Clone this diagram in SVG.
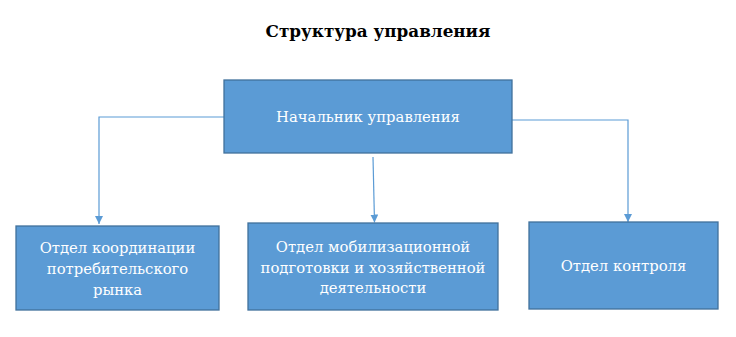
<svg xmlns="http://www.w3.org/2000/svg" width="736" height="337" viewBox="0 0 736 337">
<defs>
<style>
.box{fill:#5B9BD5;stroke:#41719C;stroke-width:1.3}
.t{font-family:'DejaVu Serif',serif;font-size:14.8px;fill:#fff;text-anchor:middle}
.title{font-family:'DejaVu Serif',serif;font-size:16.8px;font-weight:bold;fill:#000;text-anchor:middle}
.c{fill:none;stroke:#5B9BD5;stroke-width:1.2}
</style>
<marker id="ah" viewBox="0 0 10 10" refX="10" refY="5" markerWidth="8" markerHeight="8" markerUnits="userSpaceOnUse" orient="auto">
<path d="M0,0 L10,5 L0,10 Z" fill="#5B9BD5"/>
</marker>
</defs>
<rect width="736" height="337" fill="#fff"/>
<text class="title" x="378" y="37">Структура управления</text>
<g id="connectors">
<path class="c" d="M224,117 H99 V224" marker-end="url(#ah)"/>
<path class="c" d="M373,157 L374.5,222.5" marker-end="url(#ah)"/>
<path class="c" d="M512,120 H628 V222" marker-end="url(#ah)"/>
</g>
<g id="head">
<rect class="box" x="224" y="80" width="288" height="73"/>
<text class="t" x="368" y="122">Начальник управления</text>
</g>
<g id="dept1">
<rect class="box" x="16" y="226" width="203" height="84"/>
<text class="t" x="117.5" y="253">Отдел координации</text>
<text class="t" x="117.5" y="274">потребительского</text>
<text class="t" x="117.5" y="295">рынка</text>
</g>
<g id="dept2">
<rect class="box" x="248" y="223" width="250" height="87"/>
<text class="t" x="373" y="252">Отдел мобилизационной</text>
<text class="t" x="373" y="273">подготовки и хозяйственной</text>
<text class="t" x="373" y="293">деятельности</text>
</g>
<g id="dept3">
<rect class="box" x="529" y="222" width="189" height="87"/>
<text class="t" x="623.5" y="271">Отдел контроля</text>
</g>
</svg>
